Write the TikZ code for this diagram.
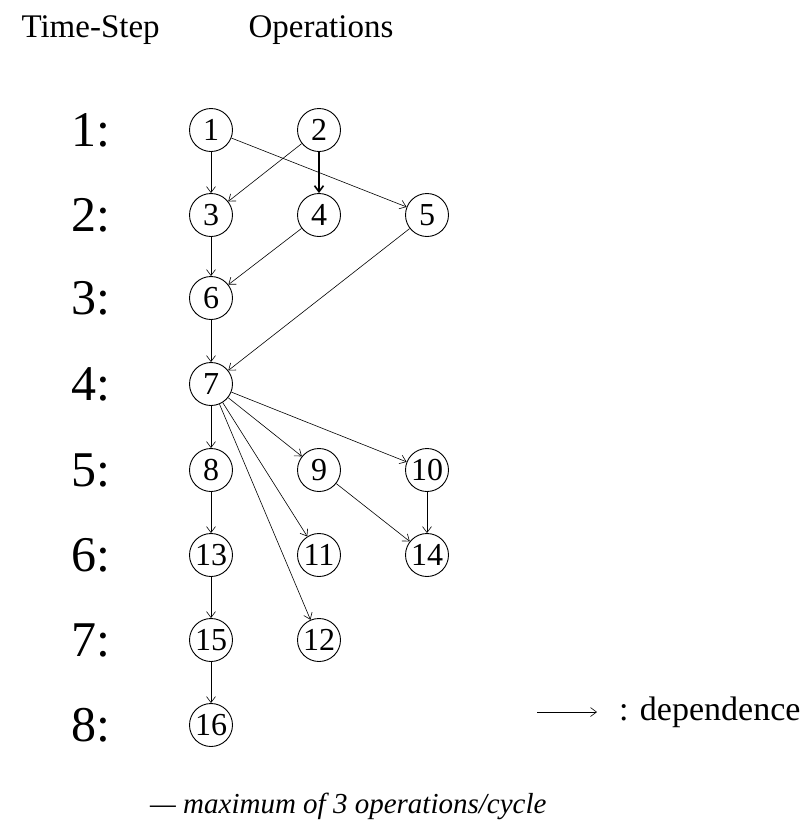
\documentclass[tikz,border=0pt]{standalone}
\usepackage{fontspec}
\setmainfont{Liberation Serif}
\newfontfamily\numfont{Liberation Serif}
\usetikzlibrary{arrows.meta}
\begin{document}
\begin{tikzpicture}[x=1pt,y=-1pt,
  op/.style={circle,draw,line width=0.9pt,minimum size=43pt,inner sep=0pt,font=\numfont\fontsize{32}{34}\selectfont},
  lvl/.style={font=\fontsize{50}{54}\selectfont,anchor=center},
  hdr/.style={font=\fontsize{33}{36}\selectfont,anchor=base west},
  dep/.style={line width=0.6pt,-{Straight Barb[length=6pt,width=9pt]}}]
\useasboundingbox (0,0) rectangle (812,831);
\node[hdr] (th) at (18,37) {Time-Step};
\node[hdr] (oh) at (245,37) {Operations};
\foreach \i/\y in {1/130,2/215,3/298,4/384,5/470,6/555,7/640,8/725}
  \node[lvl] (l\i) at (91,\y) {\i:};
\node[op] (n1) at (211,130) {1};
\node[op] (n2) at (319,130) {2};
\node[op] (n3) at (211,215) {3};
\node[op] (n4) at (319,215) {4};
\node[op] (n5) at (427,215) {5};
\node[op] (n6) at (211,298) {6};
\node[op] (n7) at (211,384) {7};
\node[op] (n8) at (211,470) {8};
\node[op] (n9) at (319,470) {9};
\node[op] (n10) at (427,470) {10};
\node[op] (n13) at (211,555) {13};
\node[op] (n11) at (319,555) {11};
\node[op] (n14) at (427,555) {14};
\node[op] (n15) at (211,640) {15};
\node[op] (n12) at (319,640) {12};
\node[op] (n16) at (211,725) {16};
\draw[dep] (n1) -- (n3);
\draw[dep] (n1) -- (n5);
\draw[dep] (n2) -- (n3);
\draw[dep,line width=1.6pt] (n2) -- (n4);
\draw[dep] (n3) -- (n6);
\draw[dep] (n4) -- (n6);
\draw[dep] (n5) -- (n7);
\draw[dep] (n6) -- (n7);
\draw[dep] (n7) -- (n8);
\draw[dep] (n7) -- (n9);
\draw[dep] (n7) -- (n10);
\draw[dep] (n7) -- (n11);
\draw[dep] (n7) -- (n12);
\draw[dep] (n8) -- (n13);
\draw[dep] (n9) -- (n14);
\draw[dep] (n10) -- (n14);
\draw[dep] (n13) -- (n15);
\draw[dep] (n15) -- (n16);
\coordinate (la) at (537,712);
\coordinate (lb) at (597,712);
\draw[dep] (la) -- (lb);
\node[font=\fontsize{34}{38}\selectfont,anchor=west,inner sep=0pt] (lt) at (619,712) {: dependence};
\node[font=\fontsize{29}{32}\selectfont\itshape,anchor=west,inner sep=0pt] (cap) at (150,806) {--- maximum of 3 operations/cycle};
\end{tikzpicture}
\end{document}
